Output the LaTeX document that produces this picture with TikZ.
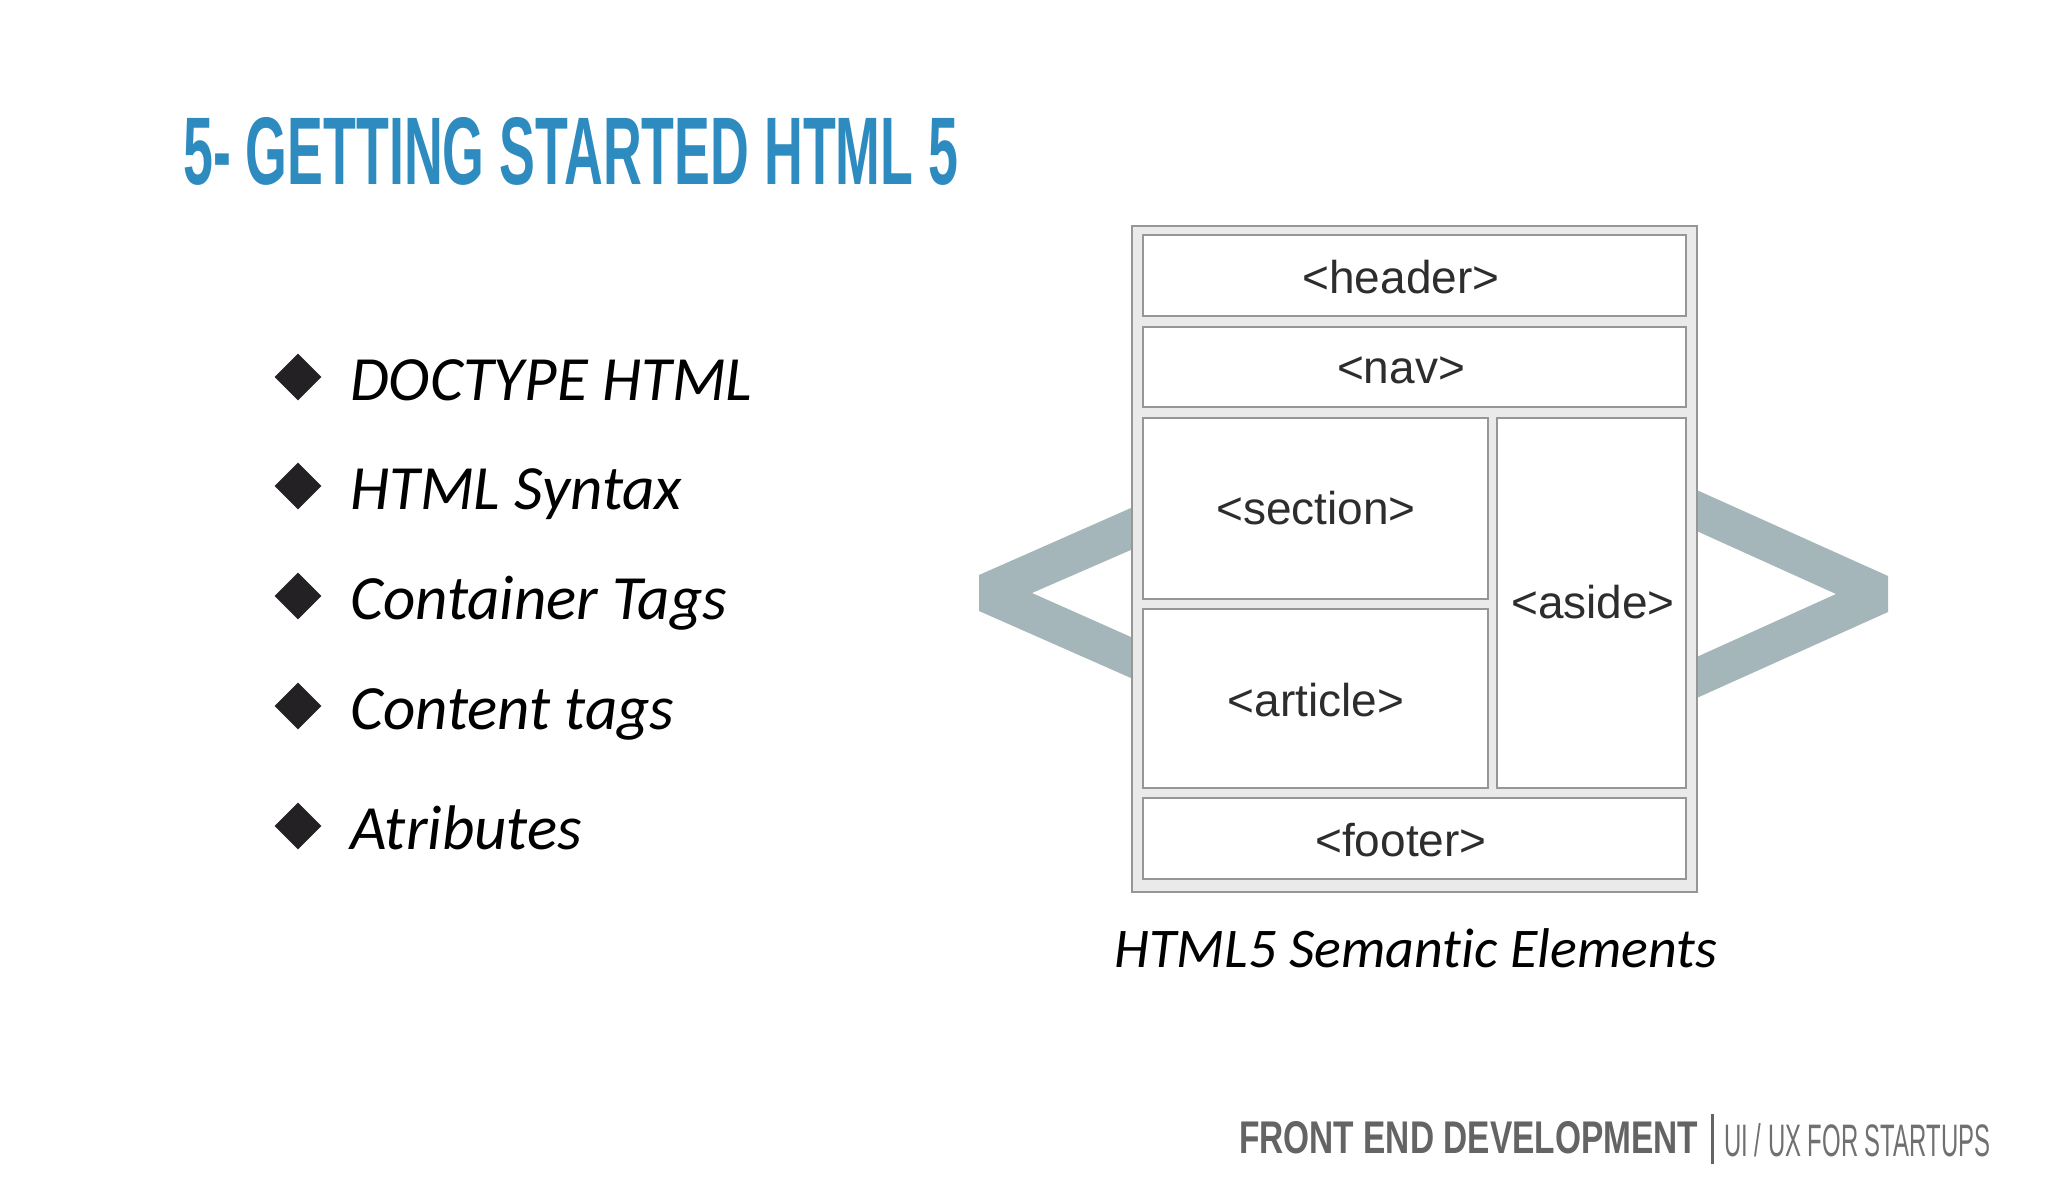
\documentclass[tikz,border=0pt]{standalone}
\usepackage{fontspec}
\usepackage{graphicx}
\setmainfont{Liberation Sans}
\newfontfamily\bulletfont[Ligatures=NoCommon]{Carlito}
\newfontfamily\cellfont{Liberation Sans}
\usetikzlibrary{shapes.geometric}
\definecolor{titleblue}{RGB}{46,139,192}
\definecolor{chev}{RGB}{164,182,186}
\definecolor{boxfill}{RGB}{234,234,234}
\definecolor{boxline}{RGB}{150,150,150}
\definecolor{celltext}{RGB}{45,45,45}
\definecolor{footdark}{RGB}{100,100,100}
\definecolor{footlight}{RGB}{112,112,112}
\definecolor{bulletcol}{RGB}{35,33,35}
\begin{document}
\begin{tikzpicture}[x=1pt,y=-1pt,
  cellbox/.style={draw=boxline, line width=2.5pt, fill=white, inner sep=0pt},
  celllabel/.style={font=\cellfont\fontsize{46}{50}\selectfont, text=celltext, inner sep=0pt},
  bulletmark/.style={diamond, fill=bulletcol, inner sep=0pt, minimum width=47pt, minimum height=47pt},
  itemtext/.style={anchor=base west, inner sep=0pt, text=black, font=\bulletfont\itshape\fontsize{63}{70}\selectfont},
  chevron/.style={fill=chev},
]
\fill[white] (0,0) rectangle (2048,1195);
\useasboundingbox (0,0) rectangle (2048,1195);

% title
\node[anchor=base west, inner sep=0pt, text=titleblue] (title) at (183,184)
  {\resizebox{775pt}{67pt}{\bfseries 5- GETTING STARTED HTML 5}};

% bullets
\foreach \i/\y/\t in {1/400/DOCTYPE HTML, 2/509/HTML Syntax, 3/619/Container Tags, 4/729/Content tags, 5/849/Atributes}{
  \node[bulletmark] (b\i) at (298,\y-23) {};
  \node[itemtext] (t\i) at (350,\y) {\t};
}

% chevrons behind the box
\fill[chevron] (1140,504) -- (979,575) -- (979,611) -- (1140,682) -- (1140,641) -- (1032,593) -- (1140,546) -- cycle;
\fill[chevron] (1690,487) -- (1888,576) -- (1888,612) -- (1690,701) -- (1690,660) -- (1836,594) -- (1690,528) -- cycle;

% outer box
\node[draw=boxline, line width=2.5pt, fill=boxfill, inner sep=0pt, minimum width=565pt, minimum height=666pt] (outer) at (1414.5,559) {};

% cells
\node[cellbox, minimum width=543pt, minimum height=81pt] (header) at (1414.5,275.5) {};
\node[cellbox, minimum width=543pt, minimum height=80pt] (nav) at (1414.5,367) {};
\node[cellbox, minimum width=345pt, minimum height=181pt] (section) at (1315.5,508.5) {};
\node[cellbox, minimum width=345pt, minimum height=179pt] (article) at (1315.5,698.5) {};
\node[cellbox, minimum width=189pt, minimum height=370pt] (aside) at (1591.5,603) {};
\node[cellbox, minimum width=543pt, minimum height=81pt] (footer) at (1414.5,838.5) {};

\node[celllabel] (lheader) at (1401,277) {<header>};
\node[celllabel] (lnav) at (1401,370) {<nav>};
\node[celllabel] (lsection) at (1316,508) {<section>};
\node[celllabel] (larticle) at (1316,700) {<article>};
\node[celllabel] (laside) at (1593,602) {<aside>};
\node[celllabel] (lfooter) at (1401,840) {<footer>};

% caption
\node[anchor=base, inner sep=0pt, font=\bulletfont\itshape\fontsize{56}{60}\selectfont] (caption) at (1416,967) {HTML5 Semantic Elements};

% footer branding
\node[anchor=base west, inner sep=0pt, text=footdark] (brand) at (1239,1153)
  {\resizebox{459pt}{32pt}{\bfseries FRONT END DEVELOPMENT}};
\draw[footdark, line width=3pt] (1712,1114) -- (1712,1164);
\node[anchor=base west, inner sep=0pt, text=footlight] (course) at (1724,1156)
  {\resizebox{266pt}{33pt}{UI / UX FOR STARTUPS}};
\end{tikzpicture}
\end{document}
